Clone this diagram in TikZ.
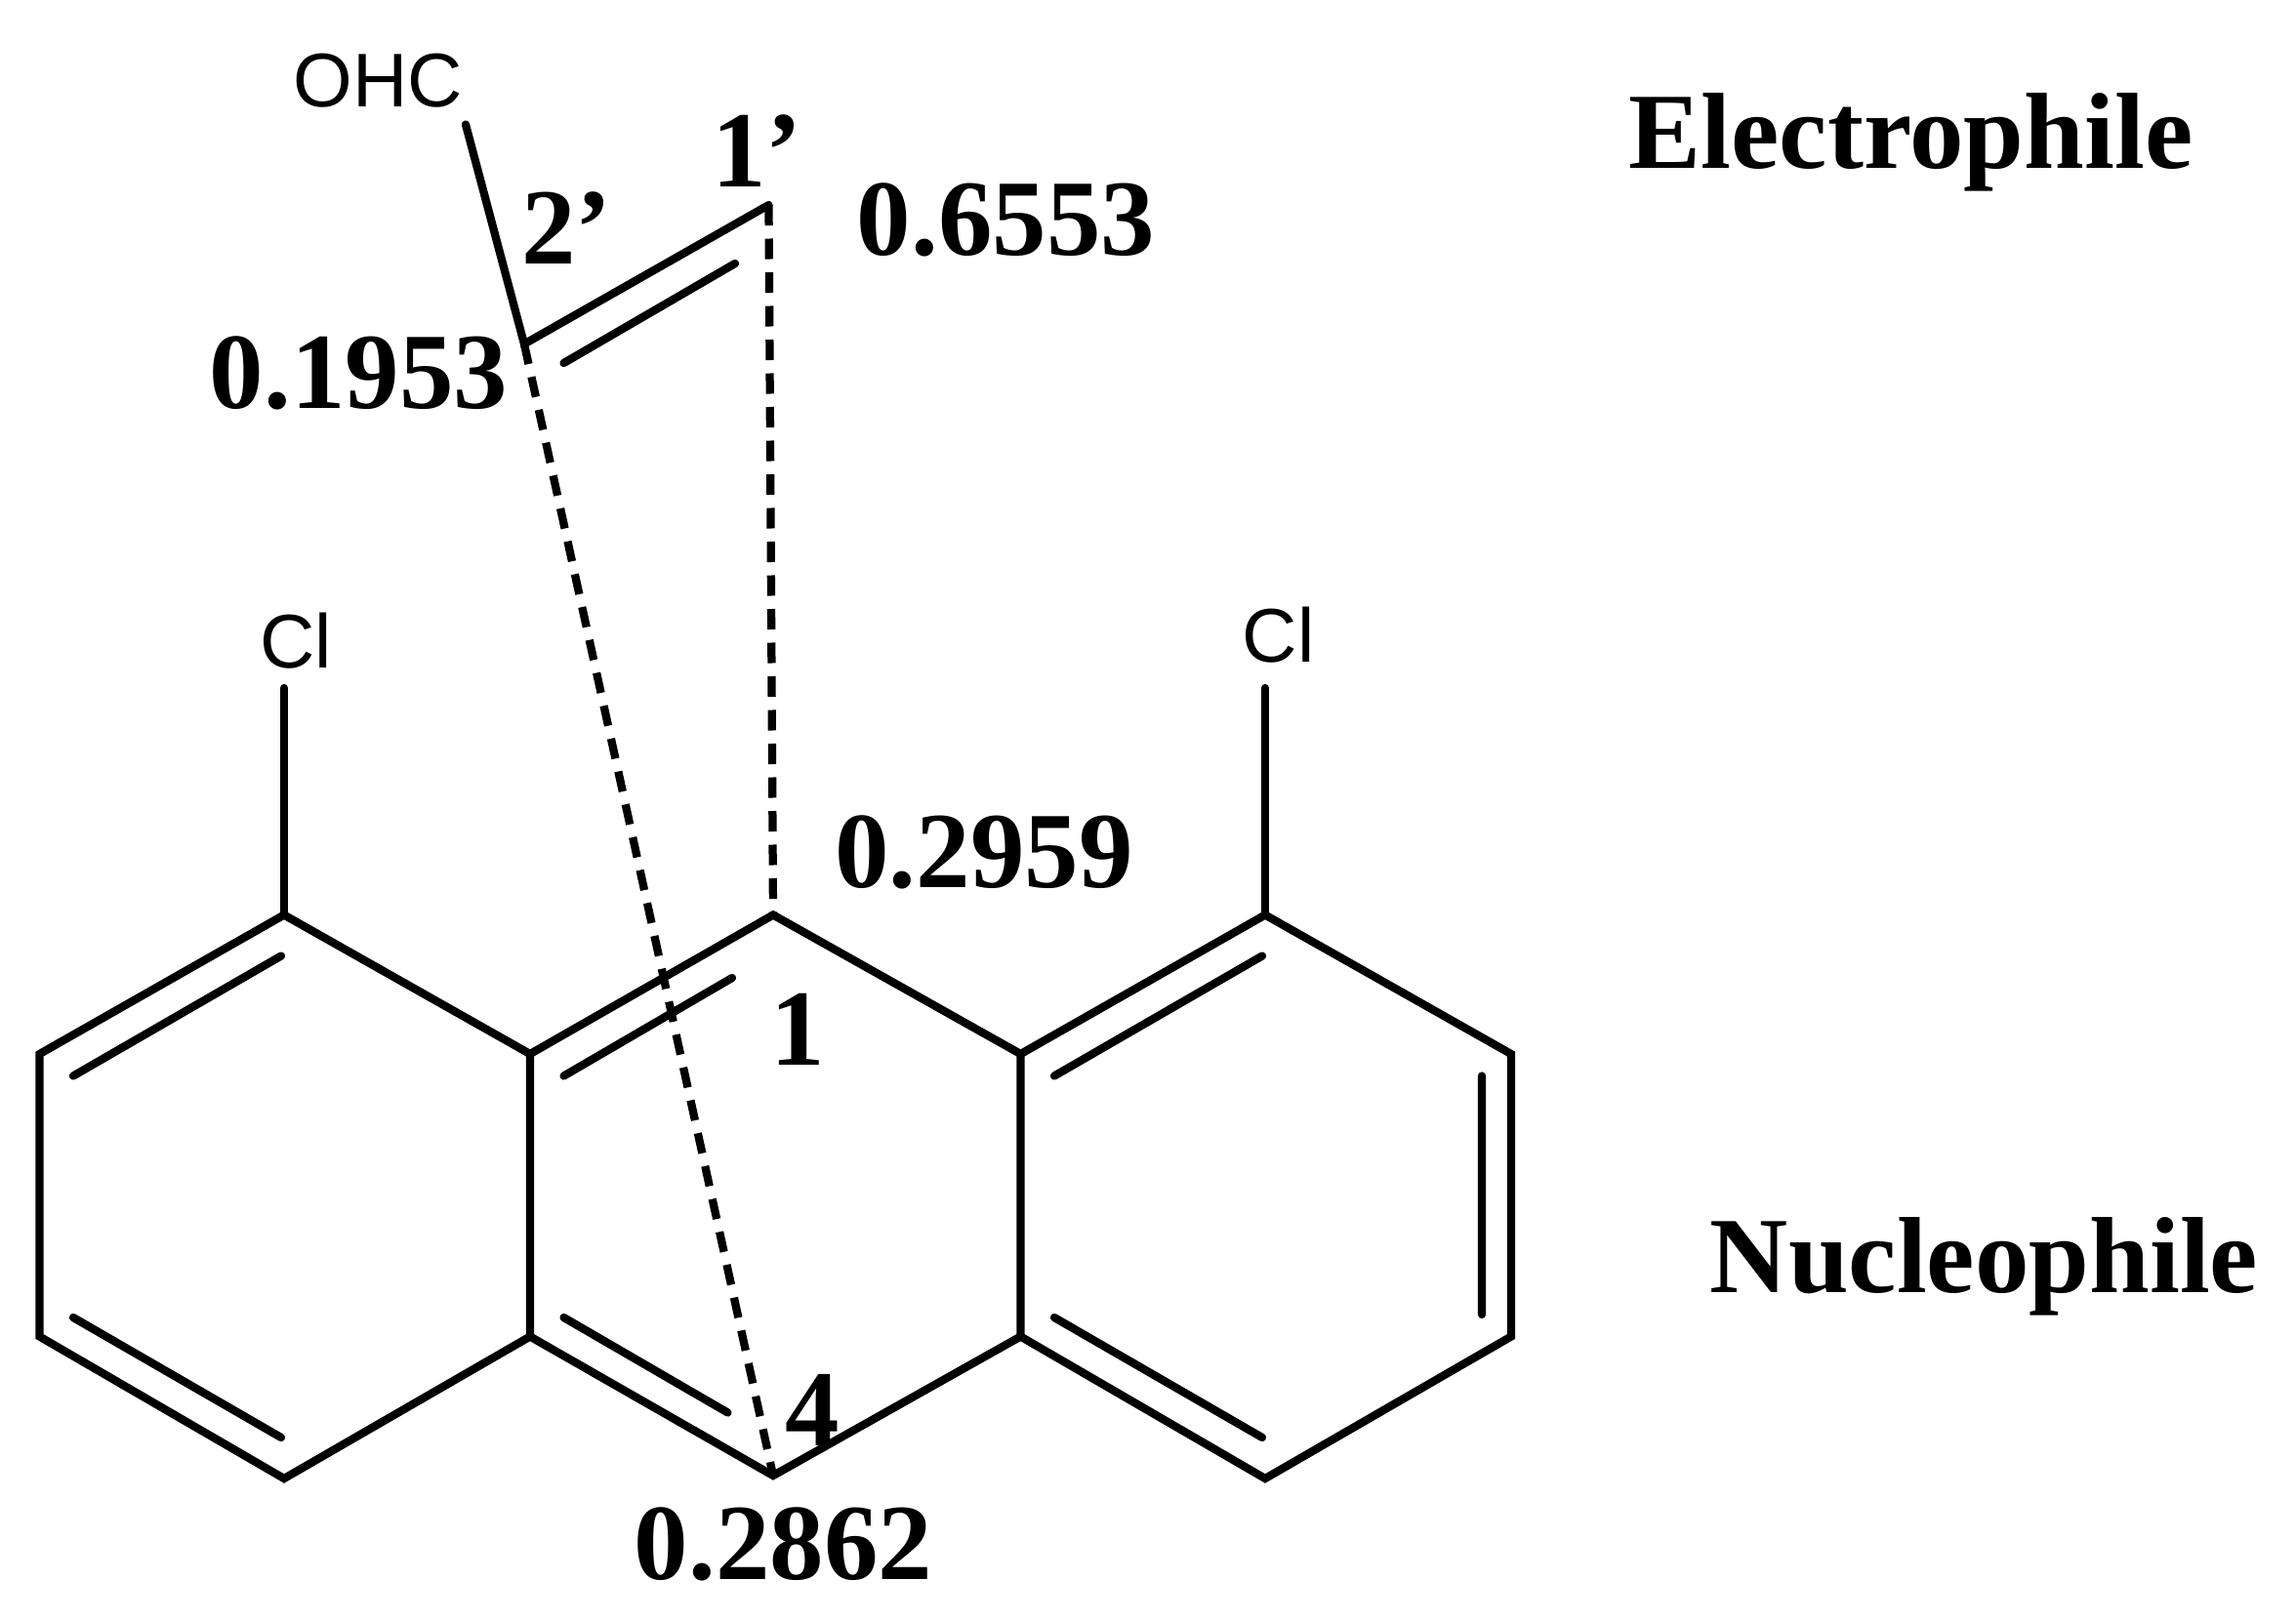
\documentclass[tikz,border=0pt]{standalone}
\usepackage{fontspec}
\setmainfont{Liberation Serif}
\newfontfamily\sansf{Liberation Sans}
\begin{document}
\begin{tikzpicture}[x=1pt,y=-1pt,
  bond/.style={line width=5.5pt,line cap=round},
  dbond/.style={line width=5.5pt,dash pattern=on 14pt off 9pt},
  lab/.style={font=\fontsize{74}{78}\selectfont\bfseries,inner sep=0},
  atom/.style={font=\sansf\fontsize{52}{56}\selectfont,inner sep=0}]
\useasboundingbox (0,0) rectangle (1568,1106);
% left ring
\coordinate (a1) at (194,625); \coordinate (a2) at (362,720); \coordinate (a3) at (362,913);
\coordinate (a4) at (194,1010); \coordinate (a5) at (27,913); \coordinate (a6) at (27,720);
% middle
\coordinate (c1) at (528,625); \coordinate (c4) at (528,1008);
% right ring
\coordinate (b1) at (864,625); \coordinate (b2) at (697,720); \coordinate (b3) at (697,913);
\coordinate (b4) at (864,1010); \coordinate (b5) at (1032,913); \coordinate (b6) at (1032,720);
\node[atom] (cl1) at (202,438) {Cl};
\node[atom] (cl2) at (873,434) {Cl};
\coordinate (c2p) at (358,235); \coordinate (c1p) at (525,140);
\node[atom] (ohc) at (258,55) {OHC};
\draw[bond] (a1)--(a2)--(a3)--(a4)--(a5)--(a6)--cycle;
\draw[bond] (a2)--(c1)--(b2)--(b3)--(c4)--(a3);
\draw[bond] (b1)--(b2) (b3)--(b4)--(b5)--(b6)--(b1);
\draw[bond] (194,470) -- (a1);
\draw[bond] (864,470) -- (b1);
% inner double lines
\draw[bond] (50,735)--(192,653) (50,900)--(192,982);
\draw[bond] (385,735)--(500,668) (385,900)--(497,965);
\draw[bond] (720,735)--(862,653) (720,900)--(862,982) (1012,735)--(1012,898);
\draw[bond] (318,85)--(c2p)--(c1p);
\draw[bond] (385,248)--(502,180);
\draw[dbond] (c1p)--(c1);
\draw[dbond] (c2p)--(c4);
\node[lab] at (517,103) {1'};
\node[lab] at (387,156) {2'};
\node[lab] at (687,150) {0.6553};
\node[lab] at (245,255) {0.1953};
\node[lab] at (672,582) {0.2959};
\node[lab] at (545,703) {1};
\node[lab] at (555,963) {4};
\node[lab] at (535,1055) {0.2862};
\node[lab] at (1305,97) {Electrophile};
\node[lab] at (1355,865) {Nucleophile};
\end{tikzpicture}
\end{document}
